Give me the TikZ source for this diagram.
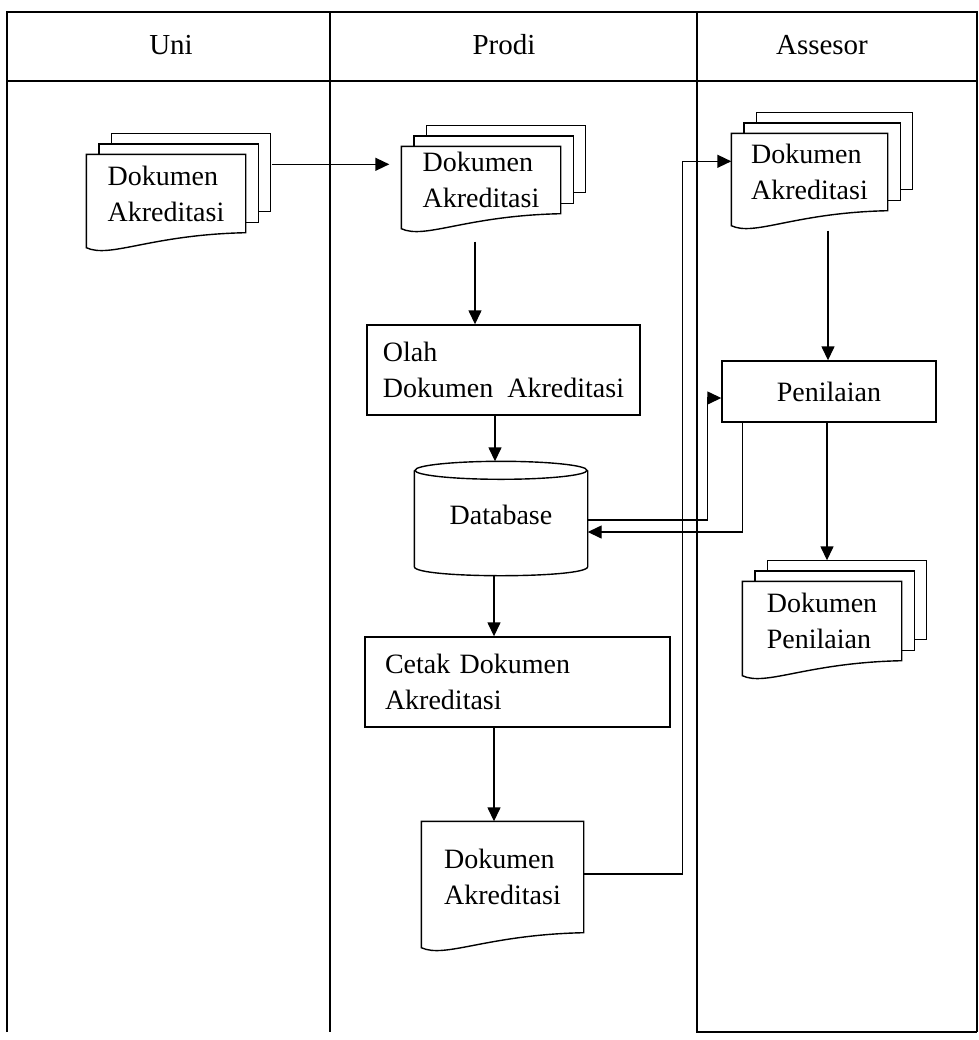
\documentclass[tikz,border=0pt]{standalone}
\usepackage{fontspec}
\setmainfont{Liberation Serif}
\usetikzlibrary{arrows.meta,calc}
\newcommand{\docpage}[1]{%
  \draw (#1.north west) -- (#1.north east) -- (#1.south east)
    .. controls ($(#1.south east)!.6!(#1.south west)+(0,2)$)
    and ($(#1.south east)!.85!(#1.south west)+(0,26)$)
    .. ([yshift=-7.5pt]#1.south west) -- cycle;}
\newcommand{\docstack}[1]{%
  \foreach \k in {1,2}{%
    \draw ([shift={(12.5*\k,10.5-10.5*\k)}]#1.north west)
      -- ([shift={(12.5*\k,-10.5*\k)}]#1.north west)
      -- ([shift={(12.5*\k,-10.5*\k)}]#1.north east)
      -- ([shift={(12.5*\k,-10.5*\k)}]#1.south east)
      -- ([shift={(12.5*\k-12.5,-10.5*\k)}]#1.south east);
  }}
\newcommand{\dbshape}[1]{%
  \draw ([yshift=-4.5pt]#1.north) ellipse [x radius=86, y radius=9];
  \draw ([yshift=-4.5pt]#1.north west) -- ([yshift=4.5pt]#1.south west)
    .. controls ([yshift=-1.5pt]#1.south west) and ([yshift=-1.5pt]#1.south east)
    .. ([yshift=4.5pt]#1.south east) -- ([yshift=-4.5pt]#1.north east);}

\begin{document}
\begin{tikzpicture}[
    x=0.5pt,
    y=-0.5pt,
    line width=0.7pt,
    >={Triangle[length=7pt,width=6.5pt]},
    link/.style={->},
    lane node/.style={font=\fontsize{14.5}{18}\selectfont},
    doc node/.style={draw=none,inner sep=0pt,align=left,font=\fontsize{14}{18}\selectfont},
    proc node/.style={draw,inner sep=0pt,align=left,font=\fontsize{14}{18}\selectfont}
    ]
    \useasboundingbox (0,0) rectangle (979,1040);

    % lanes
    \draw (7,1032) -- (7,12) -- (977,12) -- (977,1032);
    \draw (7,81) -- (977,81);
    \draw (330,12) -- (330,1032);
    \draw (697,12) -- (697,1032) -- (977,1032);
    \node[lane node] (uni) at (171,45) {Uni};
    \node[lane node] (prodi) at (504,45) {Prodi};
    \node[lane node] (assesor) at (822,45) {Assesor};

    \node[doc node, minimum width=79pt, minimum height=38.5pt] (1) at (166,193.5) {Dokumen\\Akreditasi};
    \node[doc node, minimum width=79pt, minimum height=33pt] (2) at (481,180) {Dokumen\\Akreditasi};
    \node[doc node, minimum width=77.5pt, minimum height=38pt] (3) at (809.5,172) {Dokumen\\Akreditasi};
    \node[doc node, minimum width=79pt, minimum height=39pt] (4) at (822,621) {Dokumen\\Penilaian};
    \node[doc node, minimum width=80.5pt, minimum height=55pt] (5) at (502.5,877) {Dokumen\\Akreditasi};
    \node[proc node, minimum width=136.5pt, minimum height=45pt] (6) at (503.5,370) {Olah\\Dokumen\ \ Akreditasi};
    \node[proc node, minimum width=107pt, minimum height=30.5pt] (7) at (829,391.5) {Penilaian};
    \node[proc node, inner xsep=10pt, text width=132.5pt, minimum height=45pt] (8) at (517.5,682) {Cetak Dokumen\\Akreditasi};
    \node[doc node, minimum width=86pt, minimum height=56.5pt] (9) at (501,518.5) {\raisebox{3.5pt}{Database}};

    \docpage{1} \docstack{1}
    \docpage{2} \docstack{2}
    \docpage{3} \docstack{3}
    \docpage{4} \docstack{4}
    \docpage{5}
    \dbshape{9}

    \draw[link, shorten >=6pt] ([shift={(26,10)}]1.north east) -- ([shift={(0,18)}]2.north west);
    \draw[link] ([shift={(-6,28)}]2.south) -- ([shift={(-28.5,0)}]6.north);
    \draw[link] ([shift={(-8.5,0)}]6.south) -- ([shift={(-6,0)}]9.north);
    \draw[link] ([shift={(-7,0)}]9.south) -- ([shift={(-23.5,0)}]8.north);
    \draw[link] ([shift={(-23.5,0)}]8.south) -- ([shift={(-8.5,0)}]5.north);
    \draw[link] ([shift={(0,-3)}]5.east) -| ([shift={(-49,28)}]3.north west) -- ([shift={(0,28)}]3.north west);
    \draw[link] ([shift={(18.5,20)}]3.south) -- ([shift={(-1,0)}]7.north);
    \draw[link] ([shift={(0,1.5)}]9.east) -| ([shift={(-14,6.5)}]7.west) -- ([shift={(0,6.5)}]7.west);
    \draw[link] ([shift={(21,0)}]7.south west) |- ([shift={(0,13.5)}]9.east);
    \draw[link] ([shift={(-2,0)}]7.south) -- ([shift={(5,-21)}]4.north);
\end{tikzpicture}
\end{document}
